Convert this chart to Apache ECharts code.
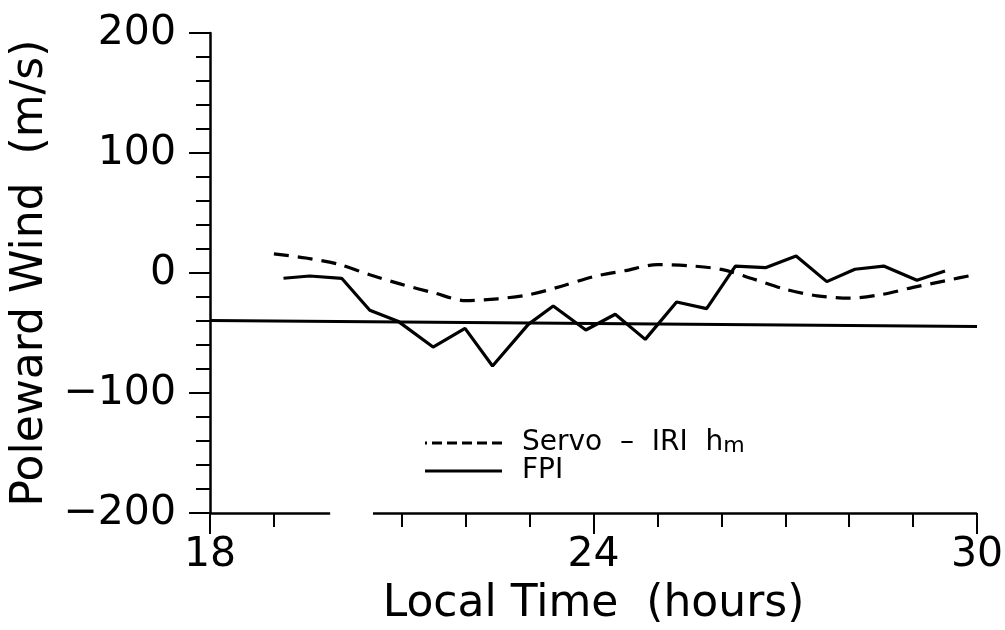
<!DOCTYPE html>
<html>
<head>
<meta charset="utf-8">
<script src="https://cdn.jsdelivr.net/npm/echarts@6/dist/echarts.min.js"></script>
</head>
<body style="margin:0;background:#fff">
<div id="container" style="width:1005px;height:630px"></div>
<script>
// values
var servoHours = [19.0, 19.5, 20.0, 20.5, 21.0, 21.5, 22.0, 22.5, 23.0, 23.5, 24.0, 24.5, 25.0, 25.5, 26.0, 26.5, 27.0, 27.5, 28.0, 28.5, 29.0, 29.5, 30.0];
var servoWind = [16, 12.5, 7.5, -1.5, -9.5, -16.5, -23, -21.5, -18, -11, -3, 2, 7, 6, 3, -5, -13.5, -19, -21, -18, -12, -6.5, -1];
var fpiHours = [19.15, 19.56, 20.06, 20.5, 20.95, 21.49, 21.99, 22.42, 22.98, 23.37, 23.88, 24.34, 24.81, 25.3, 25.77, 26.22, 26.69, 27.17, 27.65, 28.09, 28.54, 29.06, 29.5];
var fpiWind = [-4.4, -2.5, -4.4, -31, -40.5, -61.7, -46.1, -77.5, -42.8, -27.5, -47.5, -34.4, -55.3, -24.2, -29.7, 5.8, 4.4, 14.2, -7.2, 3.1, 5.8, -6.1, 1.7];
var meanHours = [18, 30];
var meanWind = [-39.5, -44.5];
var xMinorTicks = [19, 21, 22, 23, 25, 26, 27, 28, 29];
var xAxisPieces = [[18, 19.88], [20.55, 30]];

var servoName = 'Servo – IRI hm';
var font = 'DejaVu Sans';

function zip(xs, ys) {
    return xs.map(function (x, i) { return [x, ys[i]]; });
}

var dashIcon = 'path://M0,0h2v3h-2z M7,0h10v3h-10z M22,0h10v3h-10z M37,0h10v3h-10z M52,0h10v3h-10z M67,0h10v3h-10z';

var myChart = echarts.init(document.getElementById('container'));
var option = {
    animation: false,
    backgroundColor: '#fff',
    grid: { left: 210, right: 28, top: 33, bottom: 117, outerBoundsMode: 'none' },
    legend: {
        orient: 'vertical',
        left: 420,
        top: 424,
        itemWidth: 77,
        itemHeight: 3,
        itemGap: 0,
        selectedMode: false,
        data: [{ name: servoName, icon: dashIcon }, { name: 'FPI', icon: 'rect' }],
        formatter: function (name) {
            if (name === 'FPI') return '{g|}{a|FPI}';
            return '{g|}{a|Servo  –  IRI  h}{s|m}';
        },
        textStyle: {
            color: '#000',
            fontFamily: font,
            rich: {
                g: { width: 15, lineHeight: 28 },
                a: { fontSize: 28, lineHeight: 28, fontFamily: font, color: '#000' },
                s: { fontSize: 22, lineHeight: 16, verticalAlign: 'bottom', fontFamily: font, color: '#000' }
            }
        }
    },
    xAxis: [{
        type: 'value',
        min: 18,
        max: 30,
        interval: 6,
        position: 'bottom',
        axisLine: { show: false, onZero: false },
        axisTick: { show: true, length: 21, lineStyle: { color: '#000', width: 2 } },
        splitLine: { show: false },
        axisLabel: { fontSize: 41, color: '#000', fontFamily: font, margin: 22 },
        name: 'Local Time  (hours)',
        nameLocation: 'middle',
        nameGap: 70,
        nameTextStyle: { fontSize: 44, color: '#000', fontFamily: font }
    }, {
        type: 'value',
        min: 18,
        max: 30,
        position: 'bottom',
        axisLine: { show: false, onZero: false },
        axisTick: { show: true, length: 14, customValues: xMinorTicks, lineStyle: { color: '#000', width: 2 } },
        splitLine: { show: false },
        axisLabel: { show: false }
    }],
    yAxis: {
        type: 'value',
        min: -200,
        max: 200,
        interval: 100,
        axisLine: { show: true, lineStyle: { color: '#000', width: 2.5 } },
        axisTick: { show: true, length: 21, lineStyle: { color: '#000', width: 2 } },
        minorTick: { show: true, splitNumber: 5, length: 14, lineStyle: { color: '#000', width: 2 } },
        splitLine: { show: false },
        minorSplitLine: { show: false },
        axisLabel: {
            fontSize: 41, color: '#000', fontFamily: font, margin: 34,
            formatter: function (v) { return String(v).replace('-', '\u2212'); }
        },
        name: 'Poleward Wind  (m/s)',
        nameLocation: 'middle',
        nameGap: 157,
        nameTextStyle: { fontSize: 44, color: '#000', fontFamily: font }
    },
    series: [{
        name: servoName,
        type: 'line',
        color: '#000',
        data: zip(servoHours, servoWind),
        symbol: 'none',
        smooth: 0.3,
        lineStyle: { color: '#000', width: 3.2, type: [15, 9] }
    }, {
        name: 'FPI',
        type: 'line',
        color: '#000',
        data: zip(fpiHours, fpiWind),
        symbol: 'none',
        lineStyle: { color: '#000', width: 3.2 }
    }, {
        name: 'mean',
        type: 'line',
        color: '#000',
        data: zip(meanHours, meanWind),
        symbol: 'none',
        lineStyle: { color: '#000', width: 3 }
    }, {
        name: 'xaxis',
        type: 'line',
        data: [],
        silent: true,
        markLine: {
            silent: true,
            symbol: ['none', 'none'],
            label: { show: false },
            lineStyle: { color: '#000', width: 2.5, type: 'solid' },
            data: xAxisPieces.map(function (p) {
                return [{ coord: [p[0], -200] }, { coord: [p[1], -200] }];
            })
        }
    }]
};
myChart.setOption(option);
</script>
</body>
</html>
